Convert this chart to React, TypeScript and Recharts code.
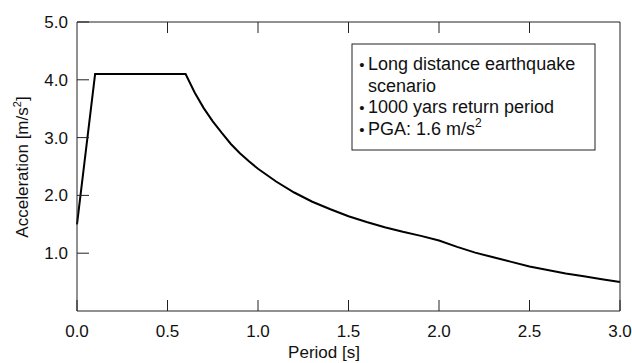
import { LineChart, Line, XAxis, YAxis, Customized } from "recharts"

// period [s] and spectral acceleration [m/s2]
const periods = [0, 0.1, 0.6, 0.65, 0.7, 0.75, 0.8, 0.85, 0.9, 0.95, 1.0, 1.1, 1.2, 1.3, 1.4, 1.5, 1.6, 1.7, 1.8, 1.9, 2.0, 2.1, 2.2, 2.3, 2.4, 2.5, 2.6, 2.7, 2.8, 2.9, 3.0]
const accel = [1.5, 4.1, 4.1, 3.78, 3.51, 3.28, 3.08, 2.89, 2.73, 2.59, 2.46, 2.24, 2.05, 1.89, 1.76, 1.64, 1.54, 1.45, 1.37, 1.3, 1.22, 1.11, 1.01, 0.93, 0.85, 0.77, 0.71, 0.65, 0.6, 0.55, 0.5]

const xTicks = [0, 0.5, 1.0, 1.5, 2.0, 2.5, 3.0]
const yTicks = [1, 2, 3, 4, 5]
const legendLines = ["Long distance earthquake", "scenario", "1000 yars return period", "PGA: 1.6 m/s"]

const data = periods.map((t, i) => ({ t, a: accel[i] }))

const FONT = "'Liberation Sans', Arial, Helvetica, sans-serif"
const AXIS = "#222"

function BottomTick(props: any) {
  const { x, y, payload } = props
  return (
    <g>
      <line x1={x} y1={y} x2={x} y2={y - 11} stroke={AXIS} />
      <text x={x} y={y + 26} textAnchor="middle" fontSize={17} fontFamily={FONT} fill="#111">
        {Number(payload.value).toFixed(1)}
      </text>
    </g>
  )
}

function TopTick(props: any) {
  const { x, y } = props
  return <line x1={x} y1={y} x2={x} y2={y + 11} stroke={AXIS} />
}

function LeftTick(props: any) {
  const { x, y, payload } = props
  return (
    <g>
      <line x1={x} y1={y} x2={x + 12} y2={y} stroke={AXIS} />
      <text x={x - 9} y={y + 6} textAnchor="end" fontSize={17} fontFamily={FONT} fill="#111">
        {Number(payload.value).toFixed(1)}
      </text>
    </g>
  )
}

function RightTick(props: any) {
  const { x, y } = props
  return <line x1={x} y1={y} x2={x - 12} y2={y} stroke={AXIS} />
}

function Annotations() {
  const lineY = [70, 92, 113, 135]
  return (
    <g fontFamily={FONT} fill="#111">
      <text x={28} y={167} textAnchor="middle" fontSize={17} transform="rotate(-90, 28, 167)">
        Acceleration [m/s
        <tspan fontSize={11} dy={-7}>2</tspan>
        <tspan dy={7}>]</tspan>
      </text>
      <text x={324} y={358} textAnchor="middle" fontSize={17}>
        Period [s]
      </text>
      <rect x={352} y={44} width={243} height={106} fill="#fff" stroke={AXIS} />
      {legendLines.map((s, i) => (
        <g key={s}>
          {i !== 1 && (
            <text x={362} y={lineY[i]} textAnchor="middle" fontSize={15}>
              •
            </text>
          )}
          <text x={368} y={lineY[i]} fontSize={18}>
            {s}
            {i === 3 && (
              <tspan fontSize={12} dy={-8}>
                2
              </tspan>
            )}
          </text>
        </g>
      ))}
    </g>
  )
}

export default function App() {
  return (
    <div style={{ position: "absolute", left: 0, top: 0, width: 632, height: 363, background: "#fff" }}>
      <LineChart width={632} height={363} data={data} margin={{ top: 21, right: 11, left: 0, bottom: 0 }}>
        <XAxis
          dataKey="t"
          type="number"
          domain={[0, 3]}
          ticks={xTicks}
          height={52}
          tickSize={0}
          tickMargin={0}
          tick={<BottomTick />}
          stroke={AXIS}
          interval={0}
        />
        <XAxis
          xAxisId="top"
          orientation="top"
          dataKey="t"
          type="number"
          domain={[0, 3]}
          ticks={[0.5, 1.0, 1.5, 2.0, 2.5]}
          height={1}
          tickSize={0}
          tickMargin={0}
          tick={<TopTick />}
          stroke={AXIS}
          interval={0}
        />
        <YAxis
          type="number"
          domain={[0, 5]}
          ticks={yTicks}
          width={77}
          tickSize={0}
          tickMargin={0}
          tick={<LeftTick />}
          stroke={AXIS}
          interval={0}
        />
        <YAxis
          yAxisId="right"
          orientation="right"
          type="number"
          domain={[0, 5]}
          ticks={[1, 2, 3, 4]}
          width={1}
          tickSize={0}
          tickMargin={0}
          tick={<RightTick />}
          stroke={AXIS}
          interval={0}
        />
        <Line type="linear" dataKey="a" stroke="#000" strokeWidth={2} dot={false} isAnimationActive={false} />
        <Customized component={<Annotations />} />
      </LineChart>
    </div>
  )
}
